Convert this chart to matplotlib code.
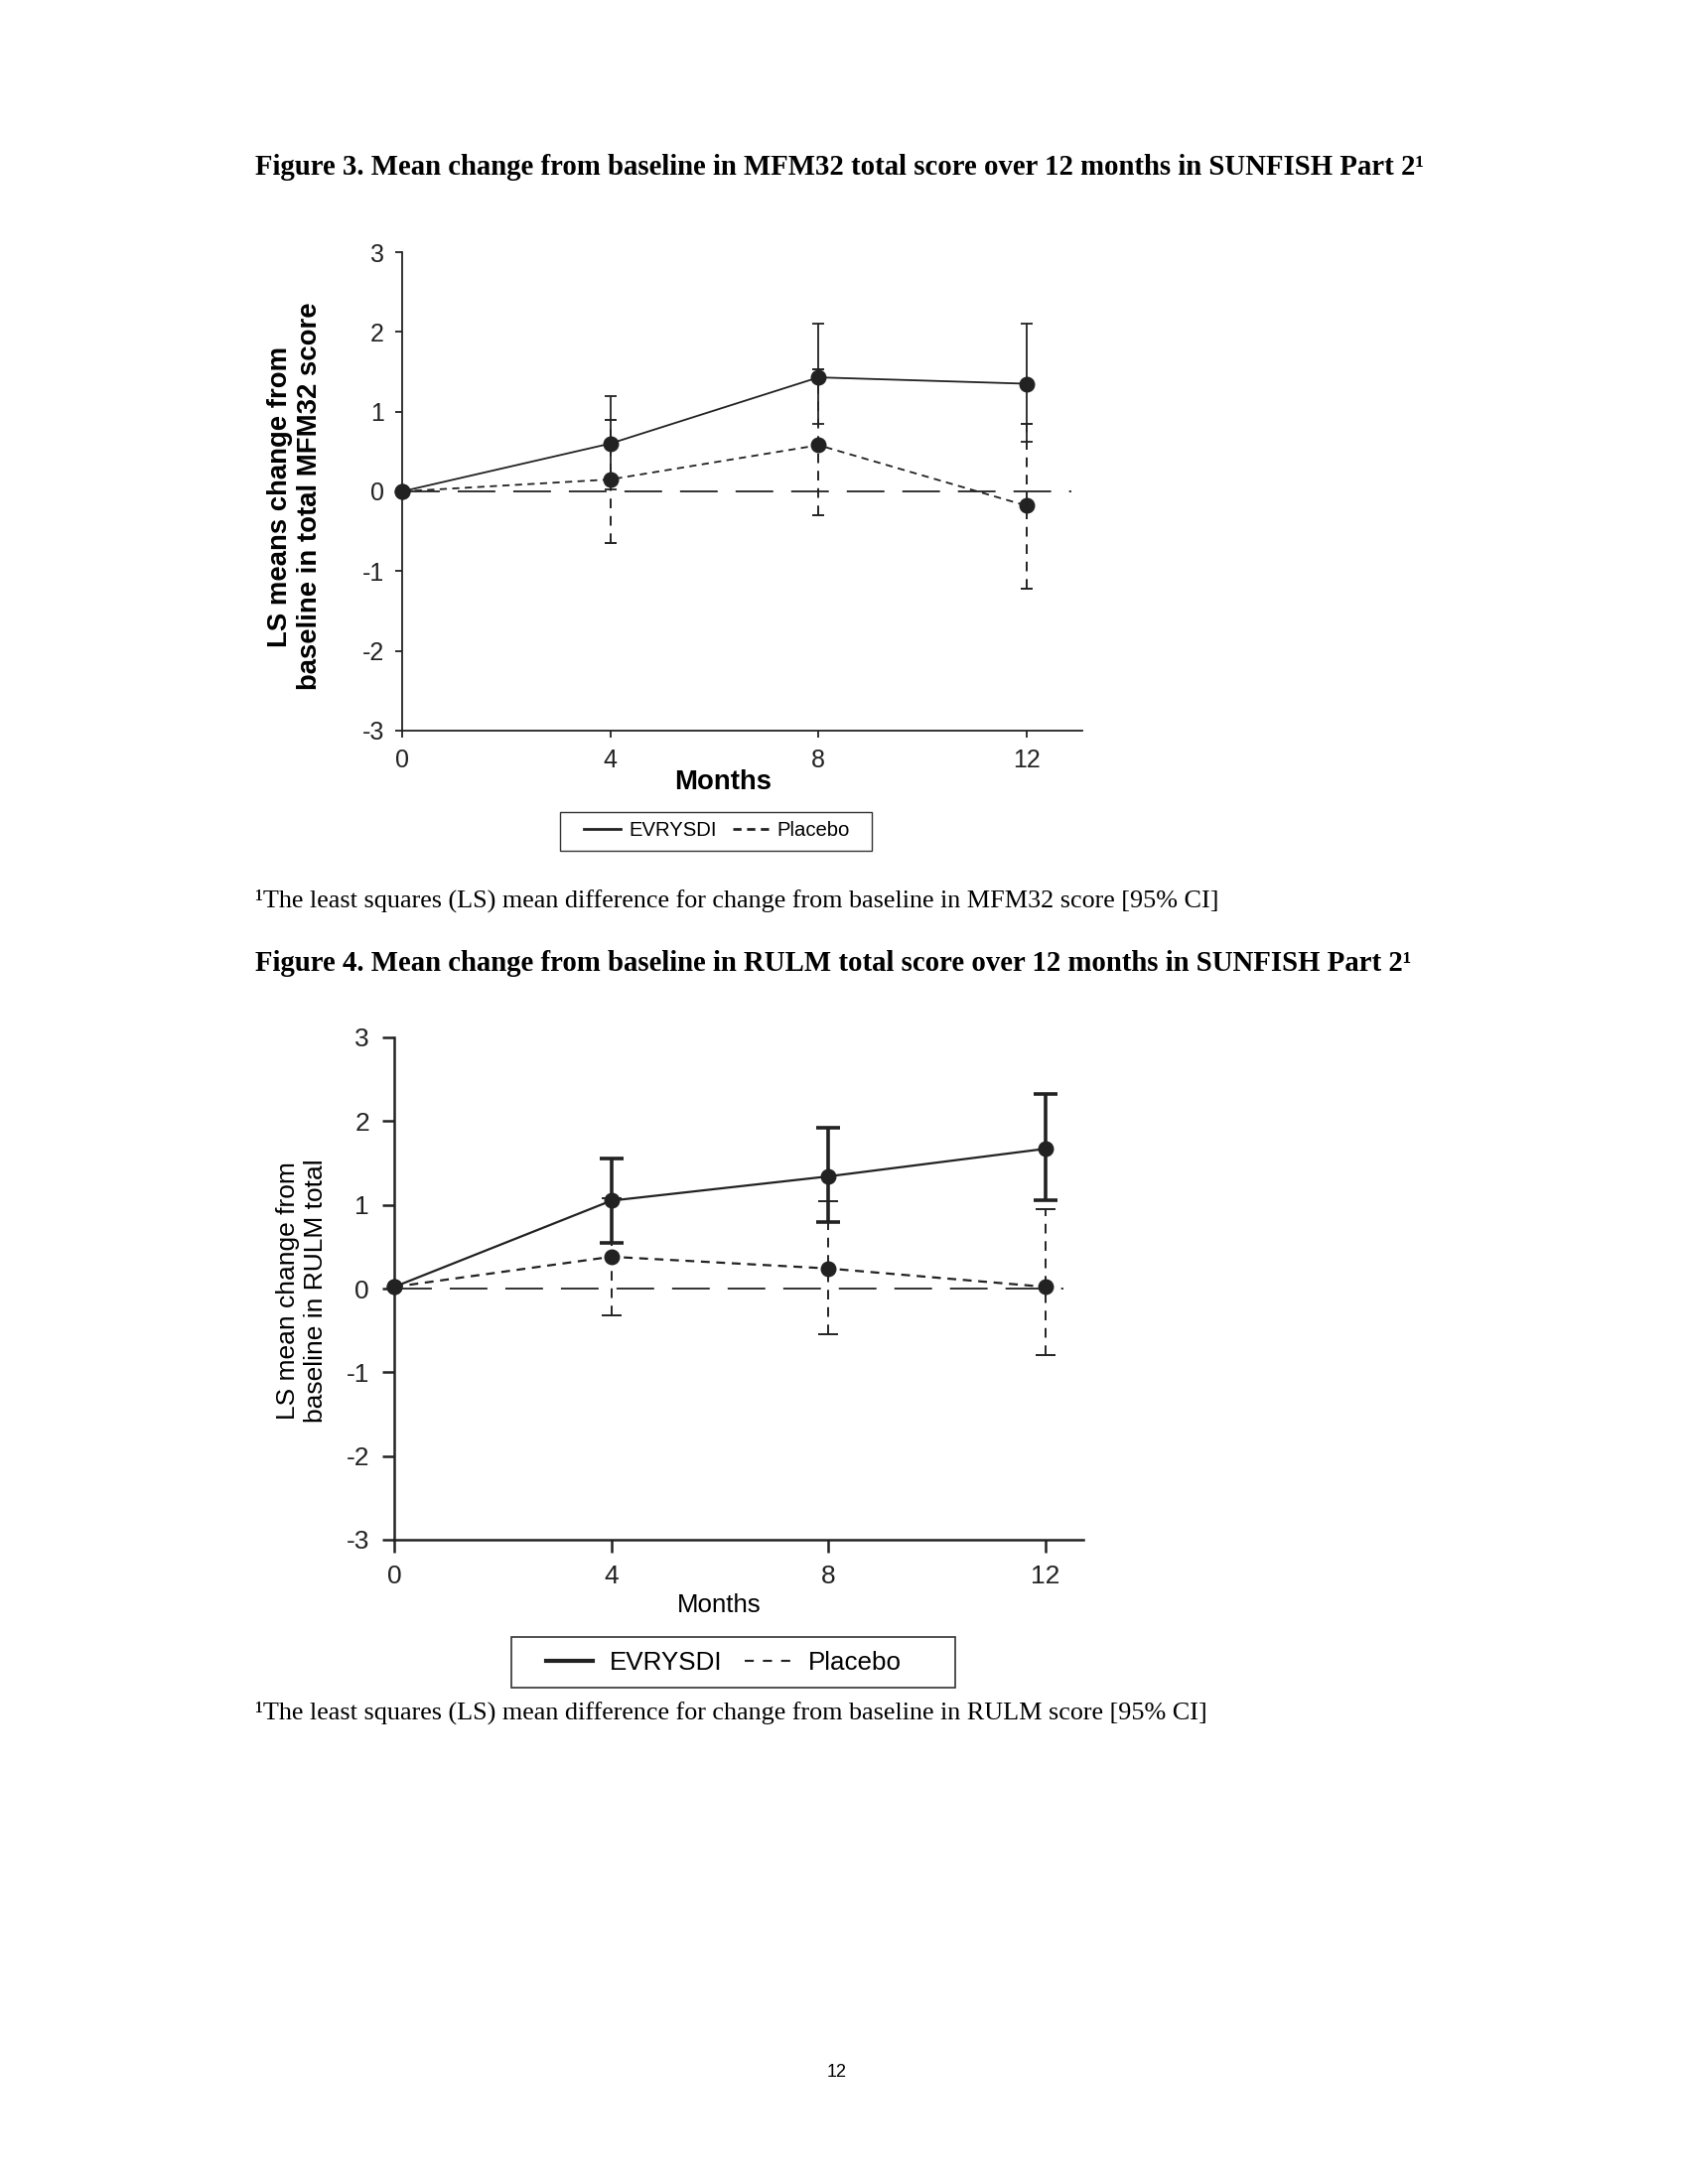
import numpy as np
import matplotlib
matplotlib.use('Agg')
import matplotlib.pyplot as plt
from matplotlib.lines import Line2D
from matplotlib.patches import Rectangle
from matplotlib import font_manager

plt.rcParams['font.family'] = ['Liberation Sans', 'DejaVu Sans']
plt.rcParams['axes.unicode_minus'] = False

# narrow face for the first panel ticks, if it is there
try:
    font_manager.findfont('Liberation Sans Narrow', fallback_to_default=False)
    narrow = 'Liberation Sans Narrow'
    tick1_size = 20
except Exception:
    narrow = 'Liberation Sans'
    tick1_size = 18

months = [0, 4, 8, 12]
ci_months = [4, 8, 12]

# Figure 3: MFM32
mfm_evr = [0.0, 0.60, 1.43, 1.35]
mfm_evr_lo = [0.02, 0.85, 0.62]
mfm_evr_hi = [1.19, 2.10, 2.10]
mfm_pla = [0.0, 0.15, 0.58, -0.18]
mfm_pla_lo = [-0.65, -0.30, -1.22]
mfm_pla_hi = [0.90, 1.53, 0.85]

# Figure 4: RULM
rulm_evr = [0.02, 1.05, 1.34, 1.67]
rulm_evr_lo = [0.55, 0.80, 1.05]
rulm_evr_hi = [1.55, 1.92, 2.32]
rulm_pla = [0.02, 0.38, 0.24, 0.02]
rulm_pla_lo = [-0.32, -0.55, -0.80]
rulm_pla_hi = [1.08, 1.04, 0.95]

yticks = [-3, -2, -1, 0, 1, 2, 3]
legend_labels = ['EVRYSDI', 'Placebo']

W, H = 1700, 2200
fig = plt.figure(figsize=(17, 22), dpi=100)
INK = '#222222'


def fx(px):
    return px / W


def fy(py):
    return 1 - py / H


def draw_panel(ax, evr, evr_lo, evr_hi, pla, pla_lo, pla_hi, xmax, zend,
               lw, ebw, spw, ticklen, cap_e, cap_p, tickfont, ticksize, pad):
    ax.set_xlim(0, xmax)
    ax.set_ylim(-3, 3)
    for s in ['top', 'right']:
        ax.spines[s].set_visible(False)
    for s in ['left', 'bottom']:
        ax.spines[s].set_linewidth(spw)
        ax.spines[s].set_color(INK)
    ax.set_xticks(months)
    ax.set_yticks(yticks)
    ax.tick_params(direction='out', length=ticklen, width=spw, labelsize=ticksize,
                   pad=pad, colors=INK)
    for lab in ax.get_xticklabels() + ax.get_yticklabels():
        lab.set_family(tickfont)

    # reference line at zero
    zl, = ax.plot([0, zend], [0, 0], color=INK, lw=1.3)
    zl.set_dashes((21, 10))

    evr = np.array(evr)
    pla = np.array(pla)
    ev = evr[1:]
    pv = pla[1:]
    ax.errorbar(ci_months, ev,
                yerr=[ev - np.array(evr_lo), np.array(evr_hi) - ev],
                fmt='none', ecolor=INK, elinewidth=ebw, capsize=cap_e,
                capthick=ebw)
    p = ax.errorbar(ci_months, pv,
                    yerr=[pv - np.array(pla_lo), np.array(pla_hi) - pv],
                    fmt='none', ecolor=INK, elinewidth=1.4, capsize=cap_p,
                    capthick=1.4)
    p[2][0].set_linestyle((0, (5, 4)))

    ax.plot(months, evr, '-', color=INK, lw=lw, marker='o', ms=10.5,
            clip_on=False, zorder=5)
    pl, = ax.plot(months, pla, '--', color=INK, lw=lw, marker='o', ms=10.5,
                  clip_on=False, zorder=5)
    pl.set_dashes((4, 3))


# ---- Figure 3 ----
fig.text(fx(257), fy(168),
         'Figure 3. Mean change from baseline in MFM32 total score over 12 months in SUNFISH Part 2\u00b9',
         family='Liberation Serif', weight='bold', fontsize=20.7, va='center', ha='left')

x0, x12 = 405, 1034
u1 = (x12 - x0) / 12
ax1 = fig.add_axes([fx(x0), fy(736), fx(1090) - fx(x0), fy(254) - fy(736)])
draw_panel(ax1, mfm_evr, mfm_evr_lo, mfm_evr_hi, mfm_pla, mfm_pla_lo, mfm_pla_hi,
           (1090 - x0) / u1, 12.86, 1.3, 1.3, 1.3, 5, 4.5, 4.5,
           narrow, tick1_size, 8)
fig.text(fx(297), fy(500), 'LS means change from\nbaseline in total MFM32 score',
         rotation=90, ha='center', va='center', fontsize=19.8, weight='bold',
         linespacing=1.2)
fig.text(fx(728), fy(788), 'Months', ha='center', va='center', fontsize=19.8,
         weight='bold')

fig.add_artist(Rectangle((fx(564), fy(857)), fx(878) - fx(564), fy(818) - fy(857),
                         transform=fig.transFigure, fill=False, ec='#333333', lw=1.0))
h1 = [Line2D([], [], color=INK, lw=2),
      Line2D([], [], color=INK, lw=2, ls=(0, (3, 2)))]
fig.legend(h1, legend_labels, loc='center', bbox_to_anchor=(fx(722), fy(837)),
           ncol=2, fontsize=14.6, frameon=False, handlelength=1.8,
           columnspacing=0.8, handletextpad=0.4)

fig.text(fx(257), fy(907),
         '\u00b9The least squares (LS) mean difference for change from baseline in MFM32 score [95% CI]',
         family='Liberation Serif', fontsize=18.8, va='center', ha='left')

# ---- Figure 4 ----
fig.text(fx(257), fy(971),
         'Figure 4. Mean change from baseline in RULM total score over 12 months in SUNFISH Part 2\u00b9',
         family='Liberation Serif', weight='bold', fontsize=20.7, va='center', ha='left')

x0b, x12b = 397, 1053
u2 = (x12b - x0b) / 12
ax2 = fig.add_axes([fx(x0b), fy(1551), fx(1091) - fx(x0b), fy(1045) - fy(1551)])
draw_panel(ax2, rulm_evr, rulm_evr_lo, rulm_evr_hi, rulm_pla, rulm_pla_lo, rulm_pla_hi,
           (1091 - x0b) / u2, 12.33, 1.6, 2.6, 1.8, 9, 8.5, 7,
           'Liberation Sans', 19, 9)
fig.text(fx(304), fy(1300), 'LS mean change from\nbaseline in RULM total',
         rotation=90, ha='center', va='center', fontsize=19, linespacing=1.2)
fig.text(fx(724), fy(1617), 'Months', ha='center', va='center', fontsize=18.6)

fig.add_artist(Rectangle((fx(515), fy(1700)), fx(962) - fx(515), fy(1649) - fy(1700),
                         transform=fig.transFigure, fill=False, ec='#333333', lw=1.2))
h2 = [Line2D([], [], color=INK, lw=3),
      Line2D([], [], color=INK, lw=1.5, ls=(0, (4.4, 4.4)))]
fig.legend(h2, legend_labels, loc='center', bbox_to_anchor=(fx(729), fy(1675)),
           ncol=2, fontsize=18.7, frameon=False, handlelength=1.8,
           columnspacing=0.9, handletextpad=0.65)

fig.text(fx(257), fy(1725),
         '\u00b9The least squares (LS) mean difference for change from baseline in RULM score [95% CI]',
         family='Liberation Serif', fontsize=18.8, va='center', ha='left')

fig.text(fx(843), fy(2087), '12', ha='center', va='center', fontsize=13)

fig.savefig('out.png', dpi=100)
